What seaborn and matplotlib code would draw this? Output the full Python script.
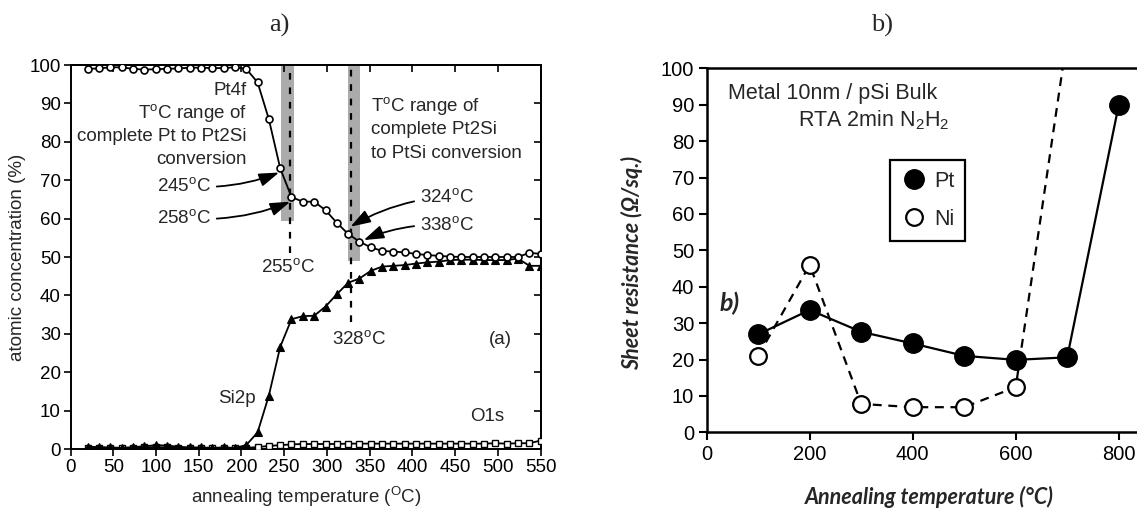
import numpy as np
import pandas as pd
import matplotlib
matplotlib.use("Agg")
import matplotlib.pyplot as plt
import seaborn as sns
from matplotlib.lines import Line2D

# ---------------- data: panel a) ----------------
temp_a = [20.0, 33.3, 46.5, 59.8, 73.0, 86.3, 99.5, 112.8, 126.0, 139.3, 152.5,
          165.8, 179.0, 192.3, 205.5, 218.8, 232.0, 245.3, 258.5, 271.8, 285.0,
          298.3, 311.5, 324.8, 338.0, 351.3, 364.5, 377.8, 391.0, 404.3, 417.5,
          430.8, 444.0, 457.3, 470.5, 483.8, 497.0, 510.3, 523.5, 536.8, 550.0]
pt4f = [99.0, 99.1, 99.4, 99.4, 99.0, 98.8, 98.9, 99.0, 99.1, 99.3, 99.3,
        99.2, 99.2, 99.4, 99.0, 95.5, 85.9, 73.1, 65.6, 64.4, 64.4,
        62.2, 58.9, 56.0, 54.0, 52.5, 51.6, 51.4, 51.2, 50.8, 50.5,
        50.3, 50.1, 50.0, 50.0, 50.0, 50.0, 50.0, 50.0, 51.1, 50.8]
si2p = [0.6, 0.5, 0.4, 0.3, 0.5, 0.7, 1.0, 0.9, 0.6, 0.4, 0.4,
        0.3, 0.4, 0.3, 1.0, 4.3, 13.9, 26.6, 33.8, 34.6, 34.7,
        37.1, 40.3, 43.3, 44.4, 46.4, 47.5, 47.7, 47.9, 48.3, 48.6,
        48.8, 49.2, 49.3, 49.3, 49.2, 49.2, 49.2, 49.6, 47.7, 47.7]
o1s = [0.3, 0.3, 0.2, 0.3, 0.3, 0.4, 0.5, 0.4, 0.3, 0.3, 0.3,
       0.3, 0.3, 0.3, 0.3, 0.5, 0.8, 1.0, 1.2, 1.3, 1.3,
       1.3, 1.3, 1.4, 1.4, 1.4, 1.4, 1.4, 1.4, 1.4, 1.4,
       1.4, 1.4, 1.4, 1.4, 1.4, 1.5, 1.4, 1.5, 1.5, 2.2]
band1 = (246, 262, 59.5)      # x-start, x-end, lower y
band2 = (324.5, 338.5, 49.0)
dash1 = (256.5, 51.0)
dash2 = (328.0, 33.0)

# ---------------- data: panel b) ----------------
temp_b = [100, 200, 300, 400, 500, 600, 700, 800]
pt_rs = [26.9, 33.6, 27.6, 24.4, 21.0, 19.9, 20.6, 89.9]
temp_ni = [100, 200, 300, 400, 500, 600, 700]
ni_rs = [21.0, 46.0, 7.8, 6.9, 6.9, 12.4, 108.5]

sns.set_theme(style="ticks")
plt.rcParams["font.family"] = ["Liberation Sans", "DejaVu Sans"]
plt.rcParams["mathtext.default"] = "regular"
plt.rcParams["axes.edgecolor"] = "black"
plt.rcParams["xtick.color"] = "black"
plt.rcParams["ytick.color"] = "black"

fig = plt.figure(figsize=(11.37, 5.09), dpi=100)

# ================= panel a =================
ax = fig.add_axes([70.5 / 1137, 1 - 449 / 509, (540.7 - 70.5) / 1137, (449 - 65) / 509])
ax.set_xlim(0, 550)
ax.set_ylim(0, 100)

ax.axvspan(band1[0], band1[1], ymin=band1[2] / 100, ymax=1, color="#ababab", lw=0, zorder=0)
ax.axvspan(band2[0], band2[1], ymin=band2[2] / 100, ymax=1, color="#ababab", lw=0, zorder=0)
ax.plot([dash1[0], dash1[0]], [dash1[1], 100], color="black", lw=1.6, ls=(0, (3, 3.5)), zorder=1)
ax.plot([dash2[0], dash2[0]], [dash2[1], 100], color="black", lw=1.6, ls=(0, (3, 3.5)), zorder=1)

df_a = pd.DataFrame({"T": temp_a, "Pt4f": pt4f, "Si2p": si2p, "O1s": o1s})
sns.lineplot(data=df_a, x="T", y="O1s", ax=ax, color="black", lw=1.3, marker="s",
             markersize=4.5, markerfacecolor="white", markeredgecolor="black",
             markeredgewidth=1.0, zorder=3)
sns.lineplot(data=df_a, x="T", y="Si2p", ax=ax, color="black", lw=1.3, marker="^",
             markersize=5.5, markerfacecolor="black", markeredgecolor="black",
             markeredgewidth=0.8, zorder=4)
sns.lineplot(data=df_a, x="T", y="Pt4f", ax=ax, color="black", lw=1.3, marker="o",
             markersize=5.0, markerfacecolor="white", markeredgecolor="black",
             markeredgewidth=1.2, zorder=5)

ax.set_xticks(np.arange(0, 551, 50))
ax.set_yticks(np.arange(0, 101, 10))
ax.tick_params(direction="out", length=5, width=1.2, labelsize=13.5, pad=2)
ax.set_xlabel("")
ax.set_ylabel("")
for s in ax.spines.values():
    s.set_linewidth(1.4)
sec_x = ax.secondary_xaxis("top")
sec_x.set_xticks(np.arange(0, 551, 50))
sec_x.tick_params(direction="in", length=5, width=1.2, labeltop=False)
sec_y = ax.secondary_yaxis("right")
sec_y.set_yticks(np.arange(0, 101, 10))
sec_y.tick_params(direction="in", length=5, width=1.2, labelright=False)

fs = 13.5
ax.text(206, 93.3, "Pt4f", ha="right", va="center", fontsize=fs)
ax.text(206, 87.4, "T$^{o}$C range of", ha="right", va="center", fontsize=fs)
ax.text(206, 81.5, "complete Pt to Pt2Si", ha="right", va="center", fontsize=fs)
ax.text(206, 75.4, "conversion", ha="right", va="center", fontsize=fs)
ax.text(351, 89.2, "T$^{o}$C range of", ha="left", va="center", fontsize=fs)
ax.text(351, 83.1, "complete Pt2Si", ha="left", va="center", fontsize=fs)
ax.text(351, 77.0, "to PtSi conversion", ha="left", va="center", fontsize=fs)

arrow_kw = dict(arrowstyle="-|>,head_length=0.9,head_width=0.3", color="black", lw=1.3,
                shrinkA=2, shrinkB=0)
ax.annotate("245$^{o}$C", xy=(244, 72), xytext=(164, 68.5), ha="right", va="center",
            fontsize=fs, arrowprops=dict(connectionstyle="arc3,rad=0.12", **arrow_kw))
ax.annotate("258$^{o}$C", xy=(257, 64.4), xytext=(164, 60.1), ha="right", va="center",
            fontsize=fs, arrowprops=dict(connectionstyle="arc3,rad=0.12", **arrow_kw))
ax.annotate("324$^{o}$C", xy=(327.6, 57.9), xytext=(409, 65.7), ha="left", va="center",
            fontsize=fs, arrowprops=dict(connectionstyle="arc3,rad=0.12", **arrow_kw))
ax.annotate("338$^{o}$C", xy=(343, 54.4), xytext=(409, 58.3), ha="left", va="center",
            fontsize=fs, arrowprops=dict(connectionstyle="arc3,rad=0.12", **arrow_kw))
ax.text(255, 47.3, "255$^{o}$C", ha="center", va="center", fontsize=fs)
ax.text(338, 28.6, "328$^{o}$C", ha="center", va="center", fontsize=fs)
ax.text(217, 13.2, "Si2p", ha="right", va="center", fontsize=fs)
ax.text(487, 8.4, "O1s", ha="center", va="center", fontsize=fs)
ax.text(503, 28.6, "(a)", ha="center", va="center", fontsize=fs)

fig.text(306 / 1137, 1 - 497 / 509, "annealing temperature ($^{O}$C)", ha="center",
         va="center", fontsize=fs)
fig.text(18 / 1137, 1 - 257 / 509, "atomic concentration (%)", ha="center", va="center",
         rotation=90, fontsize=fs)

# ================= panel b =================
ax2 = fig.add_axes([706.7 / 1137, 1 - 432.3 / 509, 1 - 706.7 / 1137, (432.3 - 68.3) / 509])
ax2.set_xlim(0, 835.5)
ax2.set_ylim(0, 100)
df_pt = pd.DataFrame({"T": temp_b, "R": pt_rs})
df_ni = pd.DataFrame({"T": temp_ni, "R": ni_rs})
sns.lineplot(data=df_ni, x="T", y="R", ax=ax2, color="black", lw=1.6, linestyle=(0, (4, 3)),
             marker="o", markersize=12, markerfacecolor="white", markeredgecolor="black",
             markeredgewidth=1.6, zorder=3)
sns.lineplot(data=df_pt, x="T", y="R", ax=ax2, color="black", lw=1.6, marker="o",
             markersize=14, markerfacecolor="black", markeredgecolor="black",
             markeredgewidth=1.0, zorder=4)
ax2.spines["right"].set_visible(False)
for s in ["left", "bottom", "top"]:
    ax2.spines[s].set_linewidth(1.8)
ax2.set_xticks(np.arange(0, 801, 200))
ax2.set_yticks(np.arange(0, 101, 10))
ax2.tick_params(direction="out", length=6, width=1.5, labelsize=14.5, pad=3)
ax2.set_xlabel("")
ax2.set_ylabel("")

ax2.text(41, 93.1, "Metal 10nm / pSi Bulk", ha="left", va="center", fontsize=15.5)
ax2.text(177, 85.8, "RTA 2min N$_2$H$_2$", ha="left", va="center", fontsize=15.5)
ax2.text(24, 35.5, "b)", ha="left", va="center", fontsize=18, fontweight="bold",
         fontstyle="italic", family=["Lato", "DejaVu Sans"])

handles = [Line2D([], [], ls="none", marker="o", ms=14, mfc="black", mec="black"),
           Line2D([], [], ls="none", marker="o", ms=12, mfc="white", mec="black", mew=1.6)]
leg = ax2.legend(handles, ["Pt", "Ni"], loc="upper left",
                 bbox_to_anchor=(890 / 1137, 1 - 160 / 509), bbox_transform=fig.transFigure,
                 fontsize=15.5, frameon=True, fancybox=False, framealpha=1,
                 edgecolor="black", handletextpad=0.35, borderpad=0.5, labelspacing=0.8,
                 handlelength=1.2, borderaxespad=0)
leg.get_frame().set_linewidth(1.6)

fig.text(929 / 1137, 1 - 497 / 509, "Annealing temperature (°C)", ha="center", va="center",
         fontsize=15.5, fontweight="bold", fontstyle="italic", family=["Lato", "DejaVu Sans"])
fig.text(632 / 1137, 1 - 263 / 509, "Sheet resistance (Ω/sq.)", ha="center", va="center",
         rotation=90, fontsize=15.5, fontweight="bold", fontstyle="italic",
         family=["Lato", "DejaVu Sans"])

# titles
fig.text(279 / 1137, 1 - 25 / 509, "a)", ha="center", va="center", fontsize=19,
         family=["Liberation Serif", "DejaVu Serif"])
fig.text(882 / 1137, 1 - 25 / 509, "b)", ha="center", va="center", fontsize=19,
         family=["Liberation Serif", "DejaVu Serif"])

fig.savefig("out.png", dpi=100)
